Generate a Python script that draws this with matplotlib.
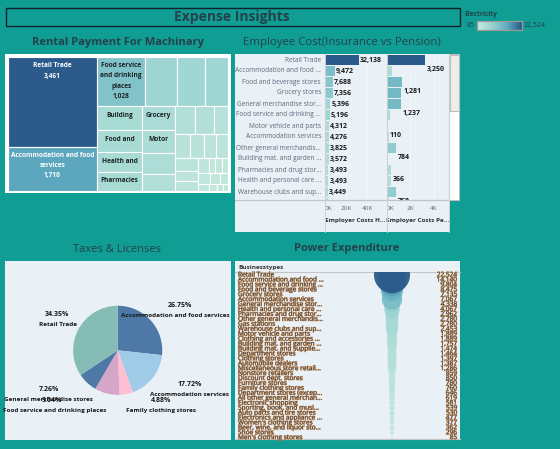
import matplotlib
matplotlib.use("Agg")
import matplotlib.pyplot as plt
import matplotlib.patheffects as pe
from matplotlib.colors import LinearSegmentedColormap
from matplotlib.patches import Rectangle
import numpy as np

plt.rcParams["font.family"] = ["Open Sans", "DejaVu Sans"]

W, H = 560, 449
teal = "#0F9D94"
panel = "#E9F0F6"
title_col = "#25424A"

# treemap: rental payment, nested as columns / rows, colour = electricity
tree_values = [
    [3461, 1710],
    [
        [1028, 680, 595, 490],
        [
            [470, 425, 385, 375],
            [343, 329, 300, 243],
            [
                [243, 230, 170],
                [156, 146, 125, 125],
                [[120, 100, 100], [[70, 40, 42, 36], [60, 48, 40], [35, 25, 18, 15]]],
            ],
        ],
    ],
]
tree_labels = {
    3461: "Retail Trade\n3,461",
    1710: "Accommodation and food\nservices\n1,710",
    1028: "Food service\nand drinking\nplaces\n1,028",
    470: "Building",
    425: "Food and",
    385: "Health and",
    375: "Pharmacies",
    343: "Grocery",
    329: "Motor",
}
tree_elec = {3461: 22524, 1710: 9800, 1028: 6400, 680: 3600, 595: 3400, 490: 3300}

# employee cost bars
bar_names = [
    "Retail Trade", "Accommodation and food ...", "Food and beverage stores",
    "Grocery stores", "General merchandise stor...", "Food service and drinking ...",
    "Motor vehicle and parts", "Accommodation services", "Other general merchandis...",
    "Building mat. and garden ...", "Pharmacies and drug stor...",
    "Health and personal care ...", "Warehouse clubs and sup...", "Gas stations",
]
insurance = [32138, 9472, 7688, 7356, 5396, 5196, 4312, 4276, 3825, 3572, 3493, 3493, 3449, 3300]
pension = [3250, 420, 1281, 1200, 1237, 260, 110, 170, 784, 90, 366, 350, 768, 200]
pension_shown = [True, False, True, False, True, False, True, False, True, False, True, False, True, False]
ins_elec = [22524, 7000, 6000, 5600, 3500, 3400, 2000, 2000, 2400, 1700, 1800, 1800, 1600, 1500]
pen_elec = [22524, 2000, 7800, 7800, 7800, 2000, 1000, 1300, 5000, 1000, 1800, 1800, 4800, 1000]

# taxes and licenses
pie_names = [
    "Accommodation and food services", "Accommodation services", "Family clothing stores",
    "Food service and drinking places", "General merchandise stores", "Retail Trade",
]
pie_share = [26.75, 17.72, 4.88, 9.04, 7.26, 34.35]
pie_colors = ["#4E79A7", "#A0CBE8", "#FFBED2", "#D4A6C8", "#4E79A7", "#86BCB6"]

# power expenditure
power_names = [
    "Retail Trade", "Accommodation and food ...", "Food service and drinking ...",
    "Food and beverage stores", "Grocery stores", "Accommodation services",
    "General merchandise stor...", "Health and personal care ...",
    "Pharmacies and drug stor...", "Other general merchandis...", "Gas stations",
    "Warehouse clubs and sup...", "Motor vehicle and parts", "Clothing and accessories ...",
    "Building mat. and garden ...", "Building mat. and supplie...", "Department stores",
    "Clothing stores", "Automobile dealers", "Miscellaneous store retail...",
    "Nonstore retailers", "Discount dept. stores", "Furniture stores",
    "Family clothing stores", "Department stores (excep...", "All other general merchan...",
    "Electronic shopping", "Sporting, book, and musi...", "Auto parts and tire stores",
    "Electronics and appliance ...", "Women's clothing stores",
    "Beer, wine, and liquor sto...", "Shoe stores", "Men's clothing stores",
]
power_values = [
    22524, 14140, 9804, 8475, 7135, 7067, 4338, 4067, 2962, 2780, 2780, 2453, 1889, 1889,
    1757, 1474, 1464, 1397, 1387, 1286, 859, 850, 780, 760, 646, 619, 581, 539, 530, 477,
    377, 362, 296, 85,
]

cmap = LinearSegmentedColormap.from_list("elec", ["#C6E9DE", "#9AD3D1", "#5FABC0", "#2B5A8B"])


def elec_color(v):
    # stepped stretch so the small values stay pale like the reference
    x = np.interp(v, [85, 1000, 3500, 7000, 9800, 22524], [0, 0.12, 0.3, 0.5, 0.68, 1.0])
    return cmap(x)


def px_axes(x0, y0, x1, y1, **kw):
    return fig.add_axes([x0 / W, 1 - y1 / H, (x1 - x0) / W, (y1 - y0) / H], **kw)


def flatten(node):
    if isinstance(node, list):
        return [v for item in node for v in flatten(item)]
    return [node]


def layout(node, x, y, w, h, vertical, out):
    total = np.sum(flatten(node))
    pos = 0.0
    for item in node:
        frac = np.sum(flatten(item)) / total
        if vertical:
            cell = (x, y + pos * h, w, frac * h)
        else:
            cell = (x + pos * w, y, frac * w, h)
        if isinstance(item, list):
            layout(item, *cell, not vertical, out)
        else:
            out.append((item, cell))
        pos += frac


fig = plt.figure(figsize=(W / 100, H / 100), dpi=100, facecolor=teal)

# overlay in pixel coordinates for frames and titles
bg = fig.add_axes([0, 0, 1, 1], zorder=0)
bg.set_xlim(0, W)
bg.set_ylim(H, 0)
bg.axis("off")

top = fig.add_axes([0, 0, 1, 1], zorder=10)
top.set_xlim(0, W)
top.set_ylim(H, 0)
top.axis("off")
top.patch.set_alpha(0)

bg.add_patch(Rectangle((5.5, 7.5), 454.5, 18, fc="none", ec="#10222A", lw=1.0))
top.text(232, 17, "Expense Insights", ha="center", va="center", fontsize=10, weight="bold", color=title_col)
top.text(117.5, 42, "Rental Payment For Machinary", ha="center", va="center", fontsize=8, weight="bold", color=title_col)
top.text(342, 42, "Employee Cost(Insurance vs Pension)", ha="center", va="center", fontsize=8.2, color=title_col)
top.text(117, 249, "Taxes & Licenses", ha="center", va="center", fontsize=8, color=title_col)
top.text(347, 249, "Power Expenditure", ha="center", va="center", fontsize=8, weight="bold", color=title_col)

# legend
top.text(464, 14.5, "Electricity", ha="left", va="center", fontsize=4.8, weight="bold", color=title_col)
leg = px_axes(477, 21, 522, 30, zorder=5)
leg.imshow(np.linspace(0, 1, 128)[None, :], cmap=cmap, aspect="auto")
leg.set_xticks([])
leg.set_yticks([])
for s in leg.spines.values():
    s.set_color("#9A9A9A")
    s.set_linewidth(0.9)
top.text(475, 25.5, "85", ha="right", va="center", fontsize=5, color=title_col)
top.text(524, 25.5, "22,524", ha="left", va="center", fontsize=5, color=title_col)

# treemap
ax = px_axes(5, 54, 231, 193, zorder=2)
ax.set_xlim(5, 231)
ax.set_ylim(193, 54)
ax.axis("off")
ax.add_patch(Rectangle((5, 54), 226, 139, fc="white", ec="none"))
cells = []
layout(tree_values, 8, 57, 220, 134, False, cells)
for val, (x, y, w, h) in cells:
    col = elec_color(tree_elec[val]) if val in tree_elec else cmap(min(0.22, 0.02 + val / 1800))
    ax.add_patch(Rectangle((x, y), w, h, fc=col, ec="white", lw=0.8))
    if val in tree_labels:
        light = val in (3461, 1710)
        ink = "white" if light else "#1C2426"
        n = tree_labels[val].count("\n") + 1
        ax.text(x + w / 2, y + 4 + n * 5, tree_labels[val], ha="center", va="center",
                fontsize=4.7, weight="bold", color=ink, linespacing=1.65)

# bars
n_rows = len(bar_names)
rows = np.arange(n_rows)
row_top = 54.5
row_h = 11.0
bg.add_patch(Rectangle((234.5, 54), 215, 178, fc=panel, ec="none"))
bg.add_patch(Rectangle((449, 54), 10, 146, fc="white", ec="#BDBDBD", lw=0.8))
bg.add_patch(Rectangle((449.5, 54.5), 9, 56, fc="#EDEDED", ec="#BDBDBD", lw=0.8))


def bar_panel(x0, x1, xmax, values, colors, ticks, ticklabels, name):
    a = px_axes(x0, 54.5, x1, 200, zorder=3)
    a.set_facecolor("none")
    a.barh(rows, values, height=0.85, color=colors)
    a.set_xlim(0, xmax)
    a.set_ylim((200 - row_top) / row_h - 0.5, -0.5)
    a.set_yticks([])
    a.set_xticks(ticks)
    a.set_xticklabels(ticklabels, fontsize=4.6, color="#666666")
    a.tick_params(axis="x", length=0, pad=4.5)
    a.grid(axis="x", color="#F4F7FA", lw=0.6)
    a.set_axisbelow(True)
    for s in ("top", "right", "left"):
        a.spines[s].set_visible(False)
    a.spines["bottom"].set_color("#C4C4C4")
    a.spines["bottom"].set_linewidth(0.8)
    a.set_xlabel(name, fontsize=4.6, weight="bold", color="#333333", labelpad=4.5)
    return a


a1 = bar_panel(324.7, 386.5, 57900, insurance, [elec_color(v) for v in ins_elec],
               [0, 20000, 40000], ["0K", "20K", "40K"], "Employer Costs H...")
a2 = bar_panel(387, 449, 5300, pension, [elec_color(v) for v in pen_elec],
               [0, 2000, 4000], ["0K", "2K", "4K"], "Employer Costs Pe...")
a1.get_xticklabels()[0].set_ha("left")
a2.get_xticklabels()[0].set_ha("left")
bg.plot([234.5, 449], [200, 200], color="#C4C4C4", lw=0.8)
for xv in (324.5, 386.7, 449):
    top.plot([xv, xv], [54, 232], color="#CFCFCF", lw=0.7)

for i, name in enumerate(bar_names[:13]):
    y = row_top + row_h * (i + 0.5)
    top.text(321, y, name, ha="right", va="center", fontsize=4.7, color="#5C6B7A")
    a1.text(insurance[i] + 800, i, f"{insurance[i]:,}", ha="left", va="center", fontsize=5,
            weight="bold", color="#1A1A1A", clip_on=True)
    if pension_shown[i]:
        a2.text(pension[i] + 120, i + 0.85, f"{pension[i]:,}", ha="left", va="center", fontsize=5,
                weight="bold", color="#1A1A1A", clip_on=True)

# pie
bg.add_patch(Rectangle((5, 261), 226, 179, fc=panel, ec="none"))
pa = px_axes(117.7 - 45, 350.3 - 45, 117.7 + 45, 350.3 + 45, zorder=3)
pa.pie(pie_share, colors=pie_colors, startangle=90, counterclock=False, radius=1.0,
       wedgeprops={"lw": 0})
pa.set_xlim(-1.01, 1.01)
pa.set_ylim(-1.01, 1.01)

pie_pct_xy = [(180, 305.5), (190, 384.5), (161, 400.5), (52, 401), (49, 389.5), (57, 314.5)]
pie_name_xy = [(175.5, 315.5), (190, 394.5), (161, 410.5), (55, 410.5), (48, 399.5), (58, 324.5)]
for share, name, p, q in zip(pie_share, pie_names, pie_pct_xy, pie_name_xy):
    top.text(p[0], p[1], f"{share:.2f}%", ha="center", va="center", fontsize=5, weight="bold", color="#1A1A1A")
    top.text(q[0], q[1], name, ha="center", va="center", fontsize=4.55, weight="bold", color="#1A1A1A")

# power expenditure
bg.add_patch(Rectangle((235, 261), 225, 179, fc=panel, ec="none"))
pw = px_axes(235, 272, 460, 438, zorder=3)
pw.set_facecolor("none")
ypos = np.arange(len(power_names))
y_first = 275.0
y_step = 4.93
pw.set_xlim(235, 460)
pw.set_ylim((438 - y_first) / y_step, (272 - y_first) / y_step)
pw.axis("off")
radius_max = 18.0
sizes = np.array(power_values) / power_values[0] * (2 * radius_max * 0.72) ** 2
pw.scatter(np.full(len(ypos), 392.0)[::-1], ypos[::-1], s=sizes[::-1],
           c=[elec_color(v) for v in power_values[::-1]], linewidths=0, alpha=0.95)
bg.plot([235, 460], [272, 272], color="#C4C4C4", lw=0.8)
bg.plot([235, 460], [439, 439], color="#C4C4C4", lw=0.8)
top.text(238, 268, "Businesstypes", ha="left", va="center", fontsize=4.6, weight="bold", color="#333333")
halo = [pe.withStroke(linewidth=0.6, foreground="#D9A066")]
for i, (name, v) in enumerate(zip(power_names, power_values)):
    y = y_first + y_step * i
    top.text(238, y, name, ha="left", va="center", fontsize=4.7, color="#22324A", path_effects=halo)
    top.text(457, y, f"{v:,}", ha="right", va="center", fontsize=4.7, color="#22324A", path_effects=halo)

fig.savefig("out.png", dpi=100, facecolor=teal)
